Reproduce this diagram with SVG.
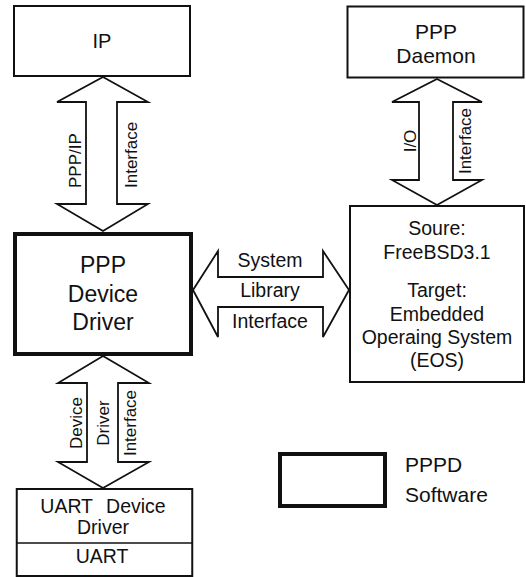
<svg xmlns="http://www.w3.org/2000/svg" width="526" height="577" viewBox="0 0 526 577">
  <style>
    text { font-family: "Liberation Sans", Arial, sans-serif; fill: #111; }
    .box { fill: #fff; stroke: #111; stroke-width: 2; }
    .thick { stroke-width: 4; }
    .arrow { fill: #fff; stroke: #111; stroke-width: 1.8; stroke-linejoin: miter; }
    .c { text-anchor: middle; }
    .lbl { font-size: 19.5px; }
    .vl { font-size: 17px; }
  </style>
  <rect width="526" height="577" fill="#fff"/>

  <!-- connectors: hollow double-headed block arrows with their labels -->
  <g id="connectors">
    <g id="ip-driver">
      <polygon class="arrow" points="103,77 148,102 117,102 117,204 148,204 103,231 57,204 86,204 86,102 57,102"/>
      <text class="vl" transform="translate(81,188) rotate(-90)">PPP/IP</text>
      <text class="vl" transform="translate(137,188) rotate(-90)">Interface</text>
    </g>
    <g id="daemon-os">
      <polygon class="arrow" points="437,79 482,102 453,102 453,180 482,180 437,205 392,180 419,180 419,102 392,102"/>
      <text class="vl c" transform="translate(416,141) rotate(-90)">I/O</text>
      <text class="vl c" transform="translate(471,141) rotate(-90)">Interface</text>
    </g>
    <g id="driver-os">
      <polygon class="arrow" points="193,290 218,251 218,277 323,277 323,251 349,290 323,337 323,307 218,307 218,337"/>
      <text class="lbl c" x="270" y="267">System</text>
      <text class="lbl c" x="270" y="297">Library</text>
      <text class="lbl c" x="270" y="328">Interface</text>
    </g>
    <g id="driver-uart">
      <polygon class="arrow" points="103,356 149,383 118,383 118,462 149,462 103,488 58,462 87,462 87,383 58,383"/>
      <text class="vl c" transform="translate(82,423) rotate(-90)">Device</text>
      <text class="vl c" transform="translate(109,423) rotate(-90)">Driver</text>
      <text class="vl c" transform="translate(136,423) rotate(-90)">Interface</text>
    </g>
  </g>

  <!-- nodes -->
  <g id="ip">
    <rect class="box" x="14" y="6" width="176" height="70"/>
    <text class="c" x="102" y="48" font-size="20">IP</text>
  </g>

  <g id="ppp-daemon">
    <rect class="box" x="347.5" y="6.5" width="176" height="71" stroke-width="3.5"/>
    <text class="c" x="436" y="39" font-size="21">PPP</text>
    <text class="c" x="436" y="63" font-size="21">Daemon</text>
  </g>

  <g id="ppp-device-driver">
    <rect class="box thick" x="15" y="234" width="176" height="120"/>
    <text class="c" x="103" y="273" font-size="23">PPP</text>
    <text class="c" x="103" y="302" font-size="23">Device</text>
    <text class="c" x="103" y="330" font-size="23">Driver</text>
  </g>

  <g id="eos">
    <rect class="box" x="350" y="206" width="174" height="176"/>
    <text class="lbl c" x="437" y="235">Soure:</text>
    <text class="lbl c" x="437" y="259">FreeBSD3.1</text>
    <text class="lbl c" x="437" y="297">Target:</text>
    <text class="lbl c" x="437" y="321">Embedded</text>
    <text class="lbl c" x="437" y="344">Operaing System</text>
    <text class="lbl c" x="437" y="367">(EOS)</text>
  </g>

  <g id="uart">
    <rect class="box" x="16.75" y="489" width="175.5" height="87" stroke-width="1.5"/>
    <line x1="16.75" y1="543" x2="192.25" y2="543" stroke="#111" stroke-width="1.5"/>
    <text class="lbl c" x="103" y="513" word-spacing="8">UART Device</text>
    <text class="lbl c" x="103" y="534">Driver</text>
    <text class="lbl c" x="102" y="563">UART</text>
  </g>

  <g id="legend">
    <rect class="box thick" x="280" y="454" width="105" height="52"/>
    <text x="405" y="472" font-size="21">PPPD</text>
    <text x="405" y="502" font-size="21">Software</text>
  </g>
</svg>
